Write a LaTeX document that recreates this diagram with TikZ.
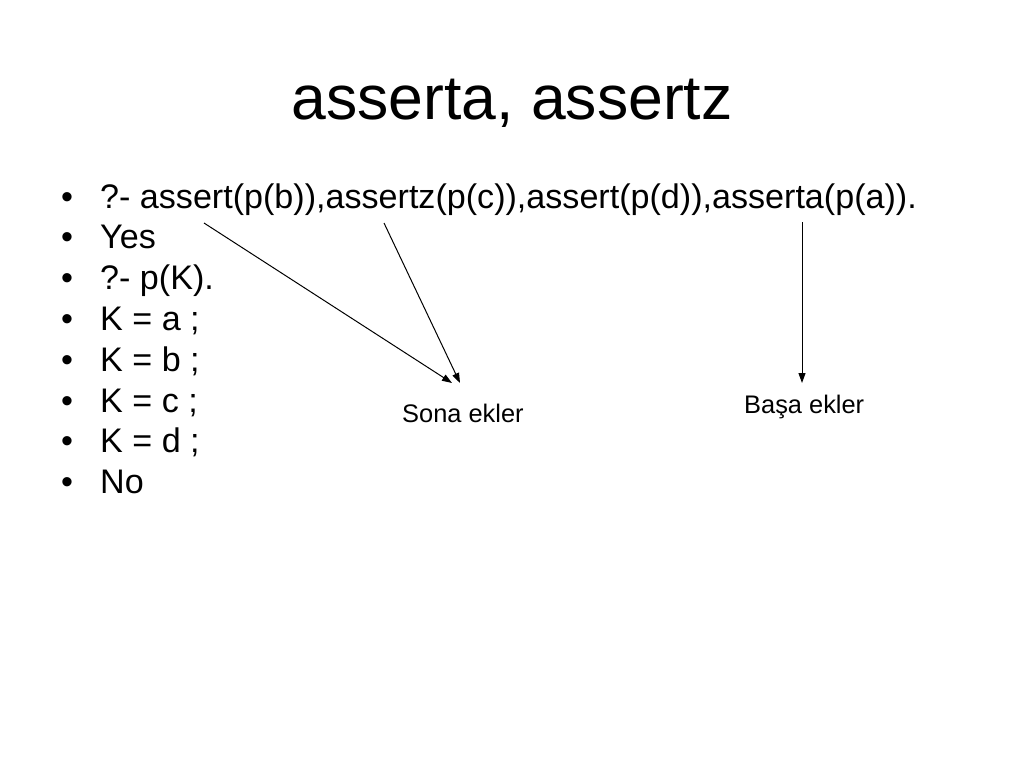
\documentclass[tikz,border=0pt]{standalone}
\usepackage{fontspec}
\setmainfont{Liberation Sans}
\usetikzlibrary{arrows.meta}
\begin{document}
\begin{tikzpicture}[x=1pt,y=-1pt,
  titletext/.style={inner sep=0pt,anchor=base,font=\fontsize{62.5}{70}\selectfont},
  bodytext/.style={inner sep=0pt,anchor=base west,font=\fontsize{34.1}{40}\selectfont},
  bullettext/.style={inner sep=0pt,anchor=base,font=\fontsize{34.1}{40}\selectfont},
  labeltext/.style={inner sep=0pt,anchor=base west,font=\fontsize{25.4}{30}\selectfont},
  conn/.style={line width=1pt,-{Triangle[length=10pt,width=7pt]}}]
\useasboundingbox[fill=white] (0,0) rectangle (1024,768);
\node[titletext] (title) at (512,119) {asserta, assertz};
\foreach \i/\t in {0/{?- assert(p(b)),assertz(p(c)),assert(p(d)),asserta(p(a)).},1/Yes,2/{?- p(K).},3/{K = a ;},4/{K = b ;},5/{K = c ;},6/{K = d ;},7/No}{
  \node[bullettext] (b\i) at (67,208+40.8*\i) {•};
  \node[bodytext] (l\i) at (100,208+40.8*\i) {\t};
}
\node[labeltext] (sona) at (402,422) {Sona ekler};
\node[labeltext] (basa) at (744,413) {Başa ekler};
\coordinate (s1) at (204,223);
\coordinate (s2) at (384,223);
\coordinate (s3) at (802,222);
\coordinate (e1) at (452,383);
\coordinate (e2) at (460,383);
\coordinate (e3) at (802,383);
\draw[conn] (s1) -- (e1);
\draw[conn] (s2) -- (e2);
\draw[conn] (s3) -- (e3);
\end{tikzpicture}
\end{document}
